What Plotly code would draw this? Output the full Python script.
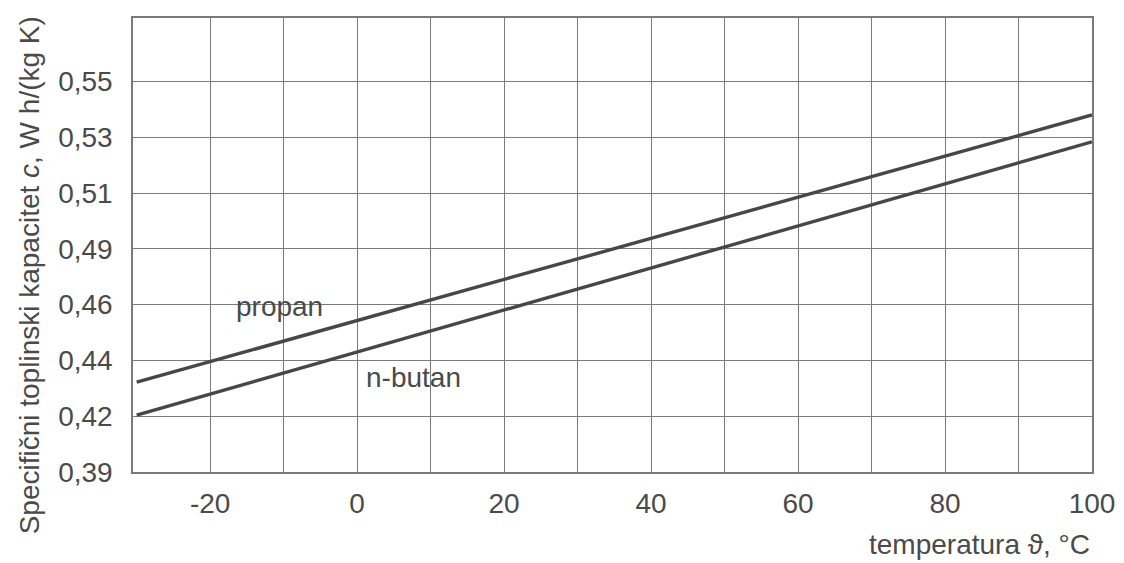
import numpy as np
import plotly.graph_objects as go

# --- data ---
temperature = [-30, 100]
propan = [0.4268, 0.5363]
n_butan = [0.4133, 0.5253]

y_tick_labels = ["0,39", "0,42", "0,44", "0,46", "0,49", "0,51", "0,53", "0,55"]
x_tick_values = [-20, -10, 0, 10, 20, 30, 40, 50, 60, 70, 80, 90, 100]
x_tick_labels = ["-20", "", "0", "", "20", "", "40", "", "60", "", "80", "", "100"]

# evenly spaced y grid carrying the printed labels
y_tick_pos = list(np.linspace(0.39, 0.55, len(y_tick_labels)))
y_step = y_tick_pos[1] - y_tick_pos[0]

FONT = "Liberation Sans, Arial, sans-serif"
TXT = "#4a4a4a"
LINE = "#474747"
GRID = "#7a7a7a"
FS = 28

fig = go.Figure()
fig.add_trace(go.Scatter(x=temperature, y=propan, mode="lines",
                         line=dict(color=LINE, width=3.4), name="propan",
                         showlegend=False))
fig.add_trace(go.Scatter(x=temperature, y=n_butan, mode="lines",
                         line=dict(color=LINE, width=3.4), name="n-butan",
                         showlegend=False))

fig.update_layout(
    width=1116, height=555,
    margin=dict(l=125, r=32, t=10, b=91, autoexpand=False),
    paper_bgcolor="white", plot_bgcolor="white",
    font=dict(family=FONT, size=FS, color=TXT),
    xaxis=dict(range=[-30.5, 100], tickvals=x_tick_values, ticktext=x_tick_labels,
               showgrid=True, gridcolor=GRID, gridwidth=1.2,
               showline=True, linecolor=GRID, linewidth=1.5, mirror=True,
               ticks="outside", ticklen=6, tickcolor="rgba(0,0,0,0)",
               zeroline=False, automargin=False,
               tickfont=dict(size=FS, color=TXT)),
    yaxis=dict(range=[0.39, 0.39 + 8.14 * y_step], tickvals=y_tick_pos,
               ticktext=y_tick_labels,
               showgrid=True, gridcolor=GRID, gridwidth=1.2,
               showline=True, linecolor=GRID, linewidth=1.5, mirror=True,
               ticks="outside", ticklen=13, tickcolor="rgba(0,0,0,0)",
               zeroline=False, automargin=False,
               tickfont=dict(size=FS, color=TXT)),
)

fig.add_annotation(x=-10.5, y=0.39 + 2.97 * y_step, text="propan", showarrow=False,
                   font=dict(size=FS, color=TXT))
fig.add_annotation(x=7.7, y=0.39 + 1.69 * y_step, text="n-butan", showarrow=False,
                   font=dict(size=FS, color=TXT))

fig.add_annotation(xref="paper", yref="paper", x=-0.107, y=0.434,
                   xanchor="center", yanchor="middle",
                   text="Specifični toplinski kapacitet <i>c</i>, W h/(kg K)",
                   textangle=-90, showarrow=False, font=dict(size=FS, color=TXT))
fig.add_annotation(xref="paper", yref="paper", x=1.0, y=-0.16, xanchor="right",
                   yanchor="middle", text="temperatura ϑ, °C", showarrow=False,
                   font=dict(size=FS, color=TXT))

fig.write_html("out.html")
